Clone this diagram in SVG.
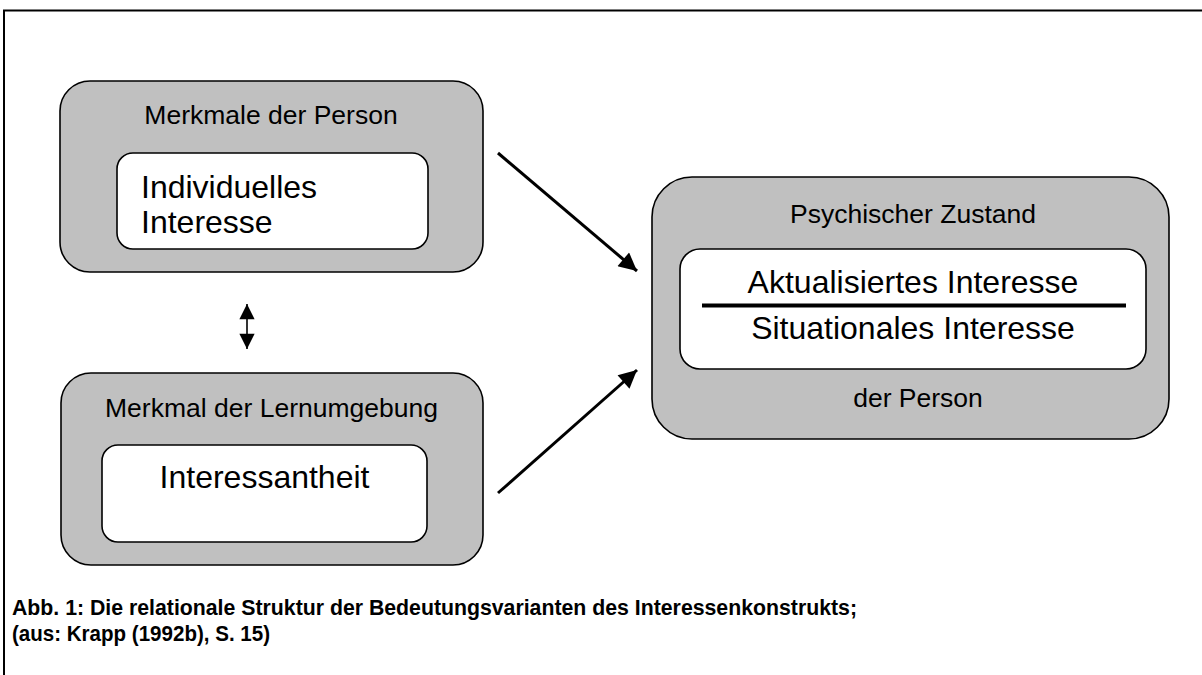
<svg xmlns="http://www.w3.org/2000/svg" width="1202" height="675" viewBox="0 0 1202 675">
  <style>
    .outer { fill: #c0c0c0; stroke: #000; stroke-width: 1.6; }
    .inner { fill: #fff; stroke: #000; stroke-width: 1.6; }
    .lbl { font-family: "Liberation Sans", Arial, sans-serif; font-size: 26.5px; fill: #000; }
    .big { font-family: "Liberation Sans", Arial, sans-serif; font-size: 32px; fill: #000; }
    .cap { font-family: "Liberation Sans", Arial, sans-serif; font-size: 22px; font-weight: bold; fill: #000; }
    .conn { stroke: #000; stroke-width: 3; fill: none; }
  </style>
  <defs>
    <marker id="head" viewBox="0 0 10 10" refX="10" refY="5" markerWidth="7" markerHeight="6" markerUnits="strokeWidth" orient="auto">
      <path d="M0,0 L10,5 L0,10 z" fill="#000"/>
    </marker>
    <marker id="headSmall" viewBox="0 0 10 10" refX="10" refY="5" markerWidth="10" markerHeight="9.5" markerUnits="strokeWidth" orient="auto-start-reverse">
      <path d="M0,0 L10,5 L0,10 z" fill="#000"/>
    </marker>
  </defs>

  <rect width="1202" height="675" fill="#fff"/>

  <!-- page frame: top and left rules -->
  <path d="M4,675 V10.5 H1202" fill="none" stroke="#000" stroke-width="2"/>

  <g id="person">
    <rect class="outer" x="60" y="81" width="423" height="191" rx="30" ry="30"/>
    <text class="lbl" x="271" y="124" text-anchor="middle">Merkmale der Person</text>
    <rect class="inner" x="117" y="153" width="311" height="96" rx="16" ry="16"/>
    <text class="big" x="141" y="198">Individuelles</text>
    <text class="big" x="141" y="233">Interesse</text>
  </g>

  <g id="lernumgebung">
    <rect class="outer" x="61" y="373" width="422" height="192" rx="30" ry="30"/>
    <text class="lbl" x="271.5" y="417" text-anchor="middle">Merkmal der Lernumgebung</text>
    <rect class="inner" x="102" y="445" width="325" height="97" rx="16" ry="16"/>
    <text class="big" x="264.5" y="488" text-anchor="middle">Interessantheit</text>
  </g>

  <g id="zustand">
    <rect class="outer" x="652" y="177" width="517" height="262" rx="40" ry="40"/>
    <text class="lbl" x="913" y="223" text-anchor="middle">Psychischer Zustand</text>
    <rect class="inner" x="680" y="249" width="466" height="120" rx="20" ry="20"/>
    <text class="big" x="913" y="293" text-anchor="middle">Aktualisiertes Interesse</text>
    <line x1="702" y1="305.5" x2="1126" y2="305.5" stroke="#000" stroke-width="4"/>
    <text class="big" x="913" y="339" text-anchor="middle">Situationales Interesse</text>
    <text class="lbl" x="918" y="407" text-anchor="middle">der Person</text>
  </g>

  <g id="connectors">
    <line class="conn" x1="498" y1="153" x2="637" y2="271" marker-end="url(#head)"/>
    <line class="conn" x1="498" y1="493" x2="637" y2="370" marker-end="url(#head)"/>
    <line stroke="#000" stroke-width="1.6" x1="247" y1="304" x2="247" y2="349" marker-start="url(#headSmall)" marker-end="url(#headSmall)"/>
  </g>

  <g id="caption">
    <text class="cap" x="12" y="615" textLength="845" lengthAdjust="spacingAndGlyphs">Abb. 1: Die relationale Struktur der Bedeutungsvarianten des Interessenkonstrukts;</text>
    <text class="cap" x="12" y="641" textLength="258" lengthAdjust="spacingAndGlyphs">(aus: Krapp (1992b), S. 15)</text>
  </g>
</svg>
